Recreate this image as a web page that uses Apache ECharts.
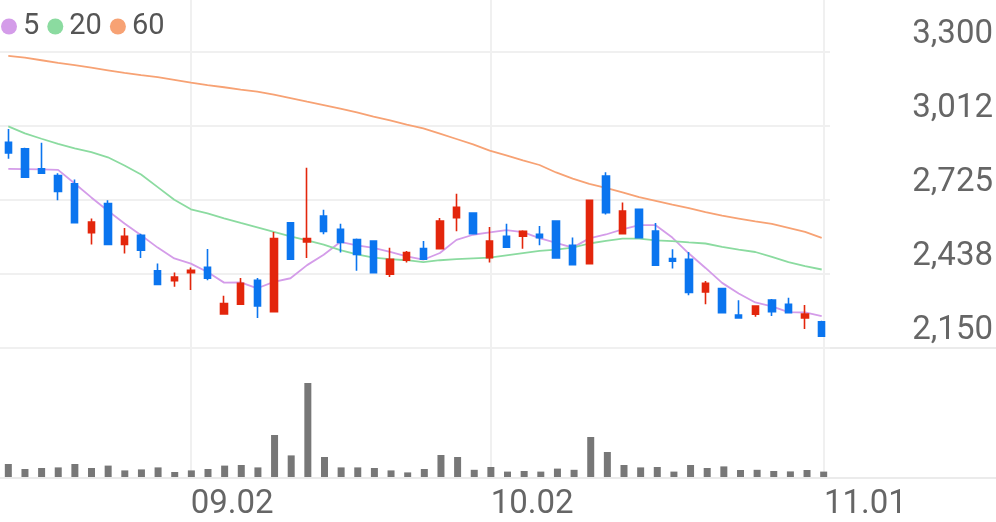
<!DOCTYPE html>
<html>
<head>
<meta charset="utf-8">
<script src="https://cdn.jsdelivr.net/npm/echarts@6/dist/echarts.min.js"></script>
<style>
  html, body { margin: 0; padding: 0; background: #fff; }
  #chart { width: 996px; height: 522px; }
</style>
</head>
<body>
<div id="chart"></div>
<script>
// trading days
const dates = ['08.16', '08.19', '08.20', '08.21', '08.22', '08.23', '08.26', '08.27', '08.28', '08.29',
	'08.30', '09.02', '09.03', '09.04', '09.05', '09.06', '09.09', '09.10', '09.11', '09.12',
	'09.13', '09.19', '09.20', '09.23', '09.24', '09.25', '09.26', '09.27', '09.30', '10.02',
	'10.04', '10.07', '10.08', '10.10', '10.11', '10.14', '10.15', '10.16', '10.17', '10.18',
	'10.21', '10.22', '10.23', '10.24', '10.25', '10.28', '10.29', '10.30', '10.31', '11.01'];
const shownDates = ['09.02', '10.02', '11.01'];

const opens = [2949, 2924, 2846, 2820, 2788, 2598, 2711, 2552, 2588, 2450,
	2411, 2443, 2464, 2282, 2320, 2413, 2291, 2636, 2562, 2663,
	2611, 2571, 2566, 2437, 2491, 2536, 2536, 2656, 2674, 2501,
	2584, 2584, 2592, 2643, 2549, 2478, 2818, 2594, 2689, 2604,
	2498, 2495, 2368, 2381, 2278, 2281, 2336, 2320, 2267, 2252];
const closes = [2908, 2814, 2829, 2758, 2637, 2639, 2552, 2584, 2530, 2397,
	2426, 2452, 2421, 2323, 2401, 2313, 2575, 2495, 2575, 2603,
	2560, 2513, 2443, 2495, 2521, 2495, 2643, 2697, 2594, 2566,
	2542, 2603, 2579, 2500, 2474, 2724, 2676, 2682, 2579, 2472,
	2487, 2366, 2401, 2287, 2267, 2313, 2291, 2287, 2282, 2196];
const lows = [2885, 2810, 2826, 2724, 2635, 2552, 2550, 2517, 2500, 2395,
	2388, 2375, 2413, 2280, 2318, 2267, 2289, 2493, 2500, 2592,
	2521, 2450, 2441, 2426, 2482, 2493, 2534, 2604, 2592, 2482,
	2540, 2536, 2549, 2498, 2472, 2476, 2669, 2592, 2577, 2470,
	2459, 2355, 2320, 2285, 2265, 2271, 2274, 2285, 2224, 2194];
const highs = [3001, 2928, 2947, 2829, 2805, 2653, 2724, 2616, 2594, 2478,
	2443, 2463, 2535, 2353, 2422, 2422, 2601, 2639, 2850, 2687,
	2633, 2575, 2568, 2539, 2527, 2566, 2655, 2749, 2676, 2620,
	2633, 2607, 2624, 2645, 2579, 2726, 2833, 2715, 2691, 2636,
	2534, 2523, 2410, 2383, 2336, 2315, 2340, 2345, 2317, 2256];

// moving averages as drawn
const ma5 = [2846, 2845, 2844, 2842, 2789, 2735, 2683, 2634, 2588, 2540,
	2498, 2478, 2445, 2404, 2405, 2382, 2407, 2421, 2472, 2512,
	2562, 2549, 2539, 2523, 2506, 2493, 2519, 2570, 2590, 2599,
	2608, 2600, 2577, 2558, 2540, 2576, 2591, 2611, 2627, 2627,
	2579, 2517, 2461, 2403, 2362, 2327, 2312, 2289, 2288, 2274];
const ma20 = [3011, 2984, 2963, 2943, 2926, 2911, 2891, 2859, 2824, 2775,
	2726, 2689, 2673, 2654, 2636, 2619, 2601, 2584, 2568, 2552,
	2530, 2514, 2501, 2495, 2491, 2484, 2491, 2495, 2498, 2501,
	2510, 2519, 2527, 2532, 2540, 2556, 2566, 2575, 2575, 2568,
	2565, 2560, 2556, 2543, 2532, 2523, 2504, 2484, 2468, 2455];
const ma60 = [3285, 3278, 3268, 3258, 3249, 3239, 3229, 3219, 3210, 3202,
	3192, 3181, 3171, 3163, 3154, 3146, 3134, 3121, 3107, 3094,
	3080, 3065, 3049, 3034, 3018, 3003, 2983, 2962, 2941, 2917,
	2898, 2879, 2861, 2832, 2808, 2788, 2772, 2755, 2736, 2722,
	2707, 2693, 2678, 2664, 2653, 2642, 2632, 2617, 2601, 2578];

const volumes = [65000, 40000, 45000, 48000, 65000, 45000, 57000, 33000, 38000, 48000,
	25000, 33000, 40000, 57000, 60000, 48000, 210000, 108000, 470000, 100000,
	48000, 48000, 45000, 33000, 23000, 40000, 110000, 100000, 36000, 50000,
	27000, 30000, 27000, 42000, 36000, 200000, 125000, 60000, 48000, 50000,
	27000, 60000, 45000, 53000, 35000, 36000, 30000, 28000, 35000, 27000];

const yTicks = ['2,150', '2,438', '2,725', '3,012', '3,300'];

const upColor = '#e3260c';
const downColor = '#0b75ef';
const gridColor = '#f0f0f0';
const fontFamily = 'Roboto';

const candles = opens.map((o, i) => [o, closes[i], lows[i], highs[i]]);

var myChart = echarts.init(document.getElementById('chart'), null, { renderer: 'canvas' });
var option;
option = {
	backgroundColor: '#fff',
	animation: false,
	legend: {
		left: 1,
		top: 12,
		padding: 0,
		itemWidth: 16,
		itemHeight: 16,
		itemGap: 8,
		selectedMode: false,
		data: [
			{ name: '5', icon: 'circle' },
			{ name: '20', icon: 'circle' },
			{ name: '60', icon: 'circle' },
		],
		textStyle: { color: '#555', fontSize: 29, fontFamily, padding: [0, 0, 0, 1] },
	},
	grid: [
		// price
		{ left: -1, right: 164, top: 52, bottom: 174 },
		// volume
		{ left: -1, right: 164, top: 383, bottom: 45 },
		// date labels + vertical lines
		{ left: 7.3, right: 172, top: 0, bottom: 45 },
	],
	xAxis: [
		{
			type: 'category', gridIndex: 0, data: dates, boundaryGap: true,
			axisLine: { show: false }, axisTick: { show: false }, axisLabel: { show: false }, splitLine: { show: false },
		},
		{
			type: 'category', gridIndex: 1, data: dates, boundaryGap: true,
			axisLine: { show: false }, axisTick: { show: false }, axisLabel: { show: false }, splitLine: { show: false },
		},
		{
			type: 'category', gridIndex: 2, data: dates, boundaryGap: false,
			axisLine: { show: false },
			axisTick: { show: false },
			axisLabel: {
				interval: (idx, val) => shownDates.includes(val),
				align: 'left',
				margin: 11,
				color: '#666',
				fontSize: 33,
				fontFamily,
			},
			splitLine: {
				show: true,
				interval: (idx, val) => shownDates.includes(val),
				lineStyle: { color: gridColor, width: 2 },
			},
		},
	],
	yAxis: [
		{
			type: 'value', gridIndex: 0, position: 'right',
			min: 2150, max: 3300, interval: 287.5,
			axisLine: { show: false }, axisTick: { show: false },
			axisLabel: {
				margin: 163,
				align: 'right',
				verticalAlign: 'bottom',
				lineHeight: 34,
				color: '#666',
				fontSize: 33,
				fontFamily,
				formatter: (v, i) => yTicks[i],
			},
			splitLine: { show: true, lineStyle: { color: gridColor, width: 2 } },
		},
		{
			type: 'value', gridIndex: 1, min: 0, max: 'dataMax',
			axisLine: { show: false }, axisTick: { show: false }, axisLabel: { show: false }, splitLine: { show: false },
		},
		{
			type: 'value', gridIndex: 2, show: false,
		},
	],
	graphic: [
		{ type: 'line', shape: { x1: 0, y1: 348, x2: 996, y2: 348 }, style: { stroke: '#ebebeb', lineWidth: 2 }, z: -1 },
		{ type: 'line', shape: { x1: 0, y1: 478, x2: 996, y2: 478 }, style: { stroke: '#ebebeb', lineWidth: 2 }, z: -1 },
	],
	series: [
		{
			name: 'price',
			type: 'candlestick',
			xAxisIndex: 0,
			yAxisIndex: 0,
			barWidth: 7,
			data: candles,
			itemStyle: {
				color: upColor,
				color0: downColor,
				borderColor: upColor,
				borderColor0: downColor,
				borderWidth: 1.6,
			},
			z: 3,
		},
		{
			name: '5', type: 'line', xAxisIndex: 0, yAxisIndex: 0, data: ma5,
			symbol: 'none', color: '#d49ce9', lineStyle: { width: 1.8, color: '#d49ce9' }, z: 2,
		},
		{
			name: '20', type: 'line', xAxisIndex: 0, yAxisIndex: 0, data: ma20,
			symbol: 'none', color: '#8bdba0', lineStyle: { width: 1.8, color: '#8bdba0' }, z: 2,
		},
		{
			name: '60', type: 'line', xAxisIndex: 0, yAxisIndex: 0, data: ma60,
			symbol: 'none', color: '#f7a274', lineStyle: { width: 1.8, color: '#f7a274' }, z: 2,
		},
		{
			name: 'volume', type: 'bar', xAxisIndex: 1, yAxisIndex: 1, data: volumes,
			barWidth: 7, itemStyle: { color: '#777' },
		},
	],
};

option && myChart.setOption(option);
</script>
</body>
</html>
